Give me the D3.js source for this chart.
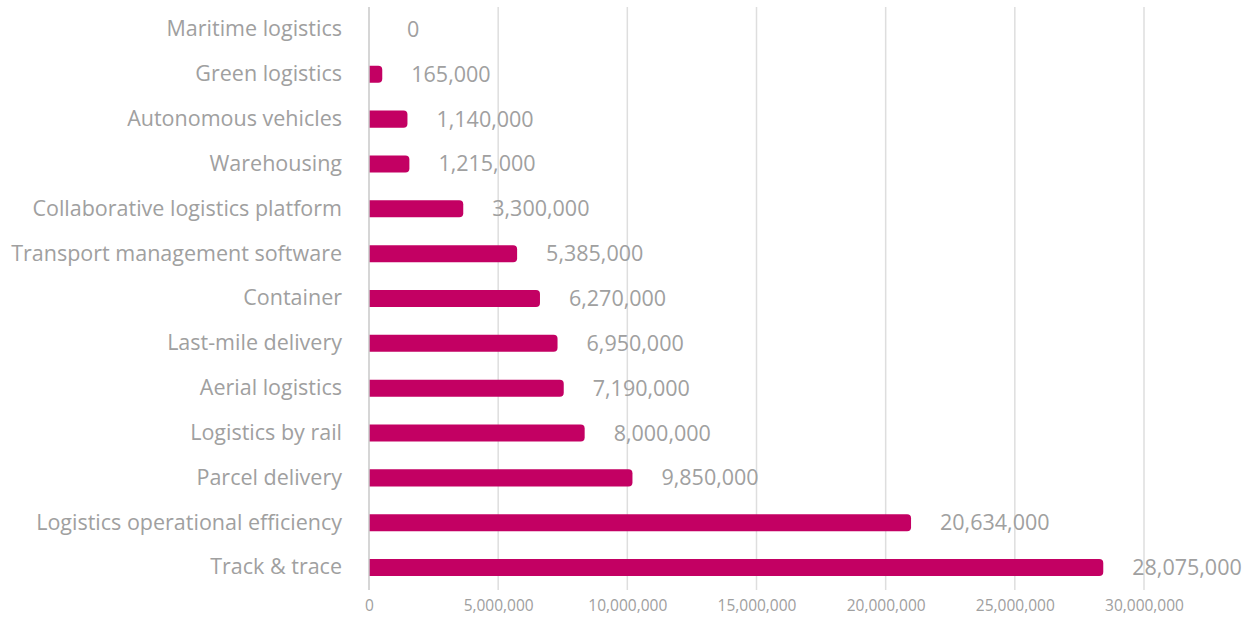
<!DOCTYPE html>
<html>
<head>
<meta charset="utf-8">
<script src="https://cdn.jsdelivr.net/npm/d3@7"></script>
<style>
  html, body { margin: 0; padding: 0; background: #fff; }
  svg { display: block; }
  text { font-family: "Open Sans", "Noto Sans", sans-serif; }
</style>
</head>
<body>
<svg id="chart" width="1256" height="617"></svg>
<script>
const categories = [
  "Maritime logistics",
  "Green logistics",
  "Autonomous vehicles",
  "Warehousing",
  "Collaborative logistics platform",
  "Transport management software",
  "Container",
  "Last-mile delivery",
  "Aerial logistics",
  "Logistics by rail",
  "Parcel delivery",
  "Logistics operational efficiency",
  "Track & trace"
];
const values = [0, 165000, 1140000, 1215000, 3300000, 5385000, 6270000, 6950000, 7190000, 8000000, 9850000, 20634000, 28075000];
const tickValues = [0, 5000000, 10000000, 15000000, 20000000, 25000000, 30000000];

const svg = d3.select("#chart");
const plotLeft = 369, plotRight = 1144, plotTop = 7, plotBottom = 590;

const x = d3.scaleLinear().domain([0, 30000000]).range([plotLeft, plotRight]);
const y = d3.scaleBand().domain(categories).range([plotTop, plotBottom]).paddingInner(0.62).paddingOuter(0.31);

const fmt = d3.format(",");
const barColor = "#c30063";
const textColor = "#a0a0a0";
const cap = 9; // rounded end cap beyond the value

// vertical gridlines
svg.append("g")
  .selectAll("line")
  .data(tickValues.slice(1))
  .join("line")
  .attr("x1", d => x(d)).attr("x2", d => x(d))
  .attr("y1", plotTop).attr("y2", plotBottom)
  .attr("stroke", "#dedede").attr("stroke-width", 1.5);

// bottom axis labels
const xAxis = d3.axisBottom(x).tickValues(tickValues).tickFormat(fmt).tickSize(0).tickPadding(10);
const ax = svg.append("g").attr("transform", `translate(0,${plotBottom})`).call(xAxis);
ax.select(".domain").remove();
ax.selectAll("text").attr("fill", textColor).attr("font-size", 15.5).attr("font-family", "\"Open Sans\", sans-serif");

// category labels
const yAxis = d3.axisLeft(y).tickSize(0).tickPadding(27);
const ay = svg.append("g").attr("transform", `translate(${plotLeft},0)`).call(yAxis);
ay.select(".domain").remove();
ay.selectAll("text").attr("fill", textColor).attr("font-size", 21.5).attr("font-family", "\"Open Sans\", sans-serif").attr("font-weight", 400);

// bars: square start at zero, rounded right end
function barPath(d, i) {
  const x0 = x(0);
  const x1 = x(d) + cap;
  const y0 = y(categories[i]);
  const h = y.bandwidth();
  const r = Math.min(4, (x1 - x0) / 2);
  return `M${x0},${y0}H${x1 - r}Q${x1},${y0} ${x1},${y0 + r}V${y0 + h - r}Q${x1},${y0 + h} ${x1 - r},${y0 + h}H${x0}Z`;
}
svg.append("g")
  .selectAll("path")
  .data(values.map((v, i) => ({ v, i })).filter(d => d.v > 0))
  .join("path")
  .attr("d", d => barPath(d.v, d.i))
  .attr("fill", barColor);

// axis line at zero
svg.append("line")
  .attr("x1", x(0)).attr("x2", x(0))
  .attr("y1", plotTop).attr("y2", plotBottom)
  .attr("stroke", "#c8c8c8").attr("stroke-width", 1.5);

// value labels
svg.append("g")
  .selectAll("text")
  .data(values)
  .join("text")
  .attr("x", d => x(d) + cap + 29)
  .attr("y", (d, i) => y(categories[i]) + y.bandwidth() / 2)
  .attr("dy", "0.35em")
  .attr("fill", textColor)
  .attr("font-size", 21.5)
  .attr("font-weight", 400)
  .text(d => fmt(d));
</script>
</body>
</html>
